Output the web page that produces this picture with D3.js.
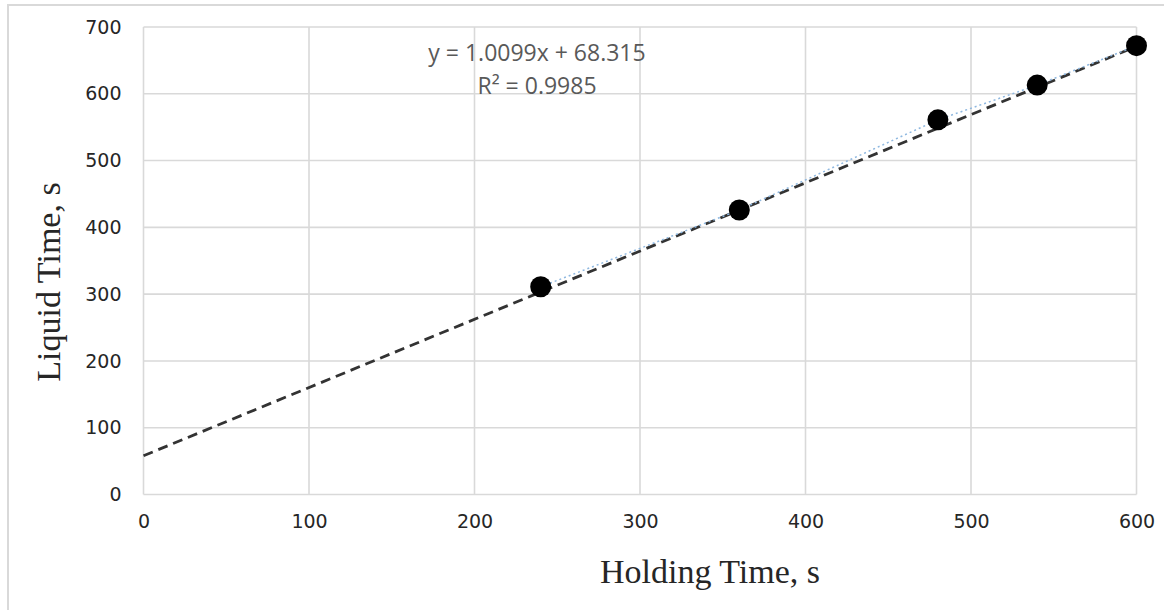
<!DOCTYPE html>
<html>
<head>
<meta charset="utf-8">
<script src="https://cdn.jsdelivr.net/npm/d3@7"></script>
<style>
  body { margin: 0; background: #fff; }
  .tick text { font-family: "DejaVu Sans", sans-serif; font-size: 19px; fill: #262626; }
  .title { font-family: "Liberation Serif", serif; font-size: 34px; fill: #262626; }
  .eq { font-family: "Open Sans", sans-serif; font-size: 23px; fill: #595959; }
</style>
</head>
<body>
<svg id="chart" width="1164" height="610"></svg>
<script>
// data
const holdingTime = [240, 360, 480, 540, 600];
const liquidTime = [311, 426, 561, 613, 672];
const trendX = [0, 600];
const trendY = [58, 671];
const xTicks = [0, 100, 200, 300, 400, 500, 600];
const yTicks = [0, 100, 200, 300, 400, 500, 600, 700];
const eqLines = ["y = 1.0099x + 68.315", "R² = 0.9985"];

const points = holdingTime.map((h, i) => ({x: h, y: liquidTime[i]}));
const trend = trendX.map((t, i) => ({x: t, y: trendY[i]}));

let svg = d3.select('#chart')

// outer chart border
svg.append('rect')
  .attr('x', 8).attr('y', 5)
  .attr('width', 1170).attr('height', 620)
  .attr('fill', 'none')
  .attr('stroke', '#d9d9d9')
  .attr('stroke-width', 2)

let x = d3.scaleLinear()
  .domain([0, 600])
  .range([143.5, 1136.5])

let y = d3.scaleLinear()
  .domain([0, 700])
  .range([494.5, 27])

// gridlines
svg.append('g')
  .selectAll('line.v')
  .data(xTicks)
  .join('line')
  .attr('x1', d => x(d)).attr('x2', d => x(d))
  .attr('y1', y(0)).attr('y2', y(700))
  .attr('stroke', '#d9d9d9')
  .attr('stroke-width', 1.6)

svg.append('g')
  .selectAll('line.h')
  .data(yTicks)
  .join('line')
  .attr('x1', x(0)).attr('x2', x(600))
  .attr('y1', d => y(d)).attr('y2', d => y(d))
  .attr('stroke', '#d9d9d9')
  .attr('stroke-width', 1.6)

// axes: labels only
let xAxis = svg.append('g')
  .attr('transform', `translate(0,${y(0)})`)
  .call(d3.axisBottom(x).tickValues(xTicks).tickSize(0).tickPadding(20))
xAxis.select('.domain').remove()

let yAxis = svg.append('g')
  .attr('transform', `translate(${x(0)},0)`)
  .call(d3.axisLeft(y).tickValues(yTicks).tickSize(0).tickPadding(22))
yAxis.select('.domain').remove()

// trendline
let line = d3.line()
  .x(d => x(d.x))
  .y(d => y(d.y))

svg.append('path')
  .datum(trend)
  .attr('fill', 'none')
  .attr('stroke', '#333333')
  .attr('stroke-width', 2.8)
  .attr('stroke-dasharray', '10,6')
  .attr('d', line)

// series line (dotted)
svg.append('path')
  .datum(points)
  .attr('fill', 'none')
  .attr('stroke', '#8fb8e0')
  .attr('stroke-width', 1.5)
  .attr('stroke-dasharray', '2,3')
  .attr('d', line)

svg.append('g')
  .selectAll('circle')
  .data(points)
  .join('circle')
  .attr('cx', d => x(d.x))
  .attr('cy', d => y(d.y))
  .attr('r', 10.5)
  .attr('fill', '#000')

// equation label
svg.append('text')
  .attr('class', 'eq')
  .attr('text-anchor', 'middle')
  .selectAll('tspan')
  .data(eqLines)
  .join('tspan')
  .attr('x', 537)
  .attr('y', (d, i) => 61 + i * 33)
  .text(d => d)

// axis titles
svg.append('text')
  .attr('class', 'title')
  .attr('text-anchor', 'middle')
  .attr('x', 710)
  .attr('y', 583)
  .text('Holding Time, s')

svg.append('text')
  .attr('class', 'title')
  .attr('text-anchor', 'middle')
  .attr('transform', 'translate(60,282) rotate(-90)')
  .text('Liquid Time, s')
</script>
</body>
</html>
